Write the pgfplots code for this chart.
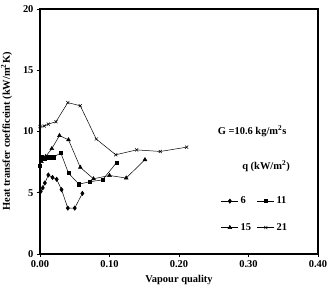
\documentclass[border=0pt]{standalone}
\usepackage{pgfplots}
\pgfplotsset{compat=1.18}
\usepackage{fontspec}
\setmainfont{Liberation Serif}
\newcommand{\lblfont}{\bfseries\fontsize{10.5}{12}\selectfont}
\begin{document}
\begin{tikzpicture}[x=1bp,y=1bp]
\useasboundingbox (-40bp,-41bp) rectangle (288bp,254bp);
\begin{axis}[
  at={(0,0)}, anchor=south west,
  width=278bp, height=245bp, scale only axis,
  xmin=0, xmax=0.4, ymin=0, ymax=20,
  xtick={0,0.1,0.2,0.3,0.4},
  ytick={0,5,10,15,20},
  xticklabel style={/pgf/number format/fixed,/pgf/number format/fixed zerofill,/pgf/number format/precision=2},
  /pgf/number format/assume math mode=true,
  tick label style={font=\lblfont},
  label style={font=\lblfont},
  xlabel={Vapour quality},
  ylabel={Heat transfer coefficeint (kW/m$^{\mathbf{2}}$K)},
  xlabel style={yshift=-1bp},
  ylabel style={yshift=4bp},
  axis line style={line width=1.4pt},
  tick style={black, line width=0.6pt},
  tick align=outside, major tick length=3bp,
  xtick pos=bottom, ytick pos=left,
  every axis plot/.append style={black, line width=0.5pt},
  legend columns=2,
  legend style={draw=none, fill=none, at={(0.64,0.25)}, anchor=north west,
    font=\lblfont, row sep=14bp,
    /tikz/every even column/.append style={column sep=4bp}},
  legend cell align=left,
]
% q = 6 kW/m2
\addplot[mark=diamond*, mark size=2.2pt] coordinates {
  (0.001,5.1) (0.004,5.4) (0.007,5.8) (0.012,6.45) (0.018,6.25)
  (0.024,6.1) (0.031,5.25) (0.040,3.75) (0.050,3.75) (0.061,4.95)};
\addlegendentry{6}
% q = 11 kW/m2
\addplot[mark=square*, mark size=1.6pt] coordinates {
  (0.000,7.2) (0.001,7.75) (0.003,7.95) (0.006,7.8) (0.012,7.9)
  (0.019,7.9) (0.030,8.25) (0.041,6.6) (0.056,5.7) (0.072,5.9)
  (0.090,6.05) (0.110,7.45)};
\addlegendentry{11}
% q = 15 kW/m2
\addplot[mark=triangle*, mark size=2.2pt] coordinates {
  (0.002,7.55) (0.008,7.95) (0.017,8.6) (0.028,9.67) (0.041,9.32)
  (0.058,7.07) (0.077,6.14) (0.100,6.41) (0.124,6.2) (0.151,7.7)};
\addlegendentry{15}
% q = 21 kW/m2
\addplot[mark=x, mark size=2.2pt] coordinates {
  (0.000,10.4) (0.006,10.45) (0.012,10.6) (0.023,10.8) (0.040,12.36)
  (0.058,12.1) (0.081,9.38) (0.109,8.1) (0.139,8.5) (0.173,8.37)
  (0.211,8.72)};
\addlegendentry{21}
\node[font=\lblfont] at (rel axis cs:0.763,0.502) {G =10.6 kg/m$^{\mathbf{2}}$s};
\node[font=\lblfont] at (rel axis cs:0.813,0.359) {q (kW/m$^{\mathbf{2}}$)};
\end{axis}
\end{tikzpicture}
\end{document}
